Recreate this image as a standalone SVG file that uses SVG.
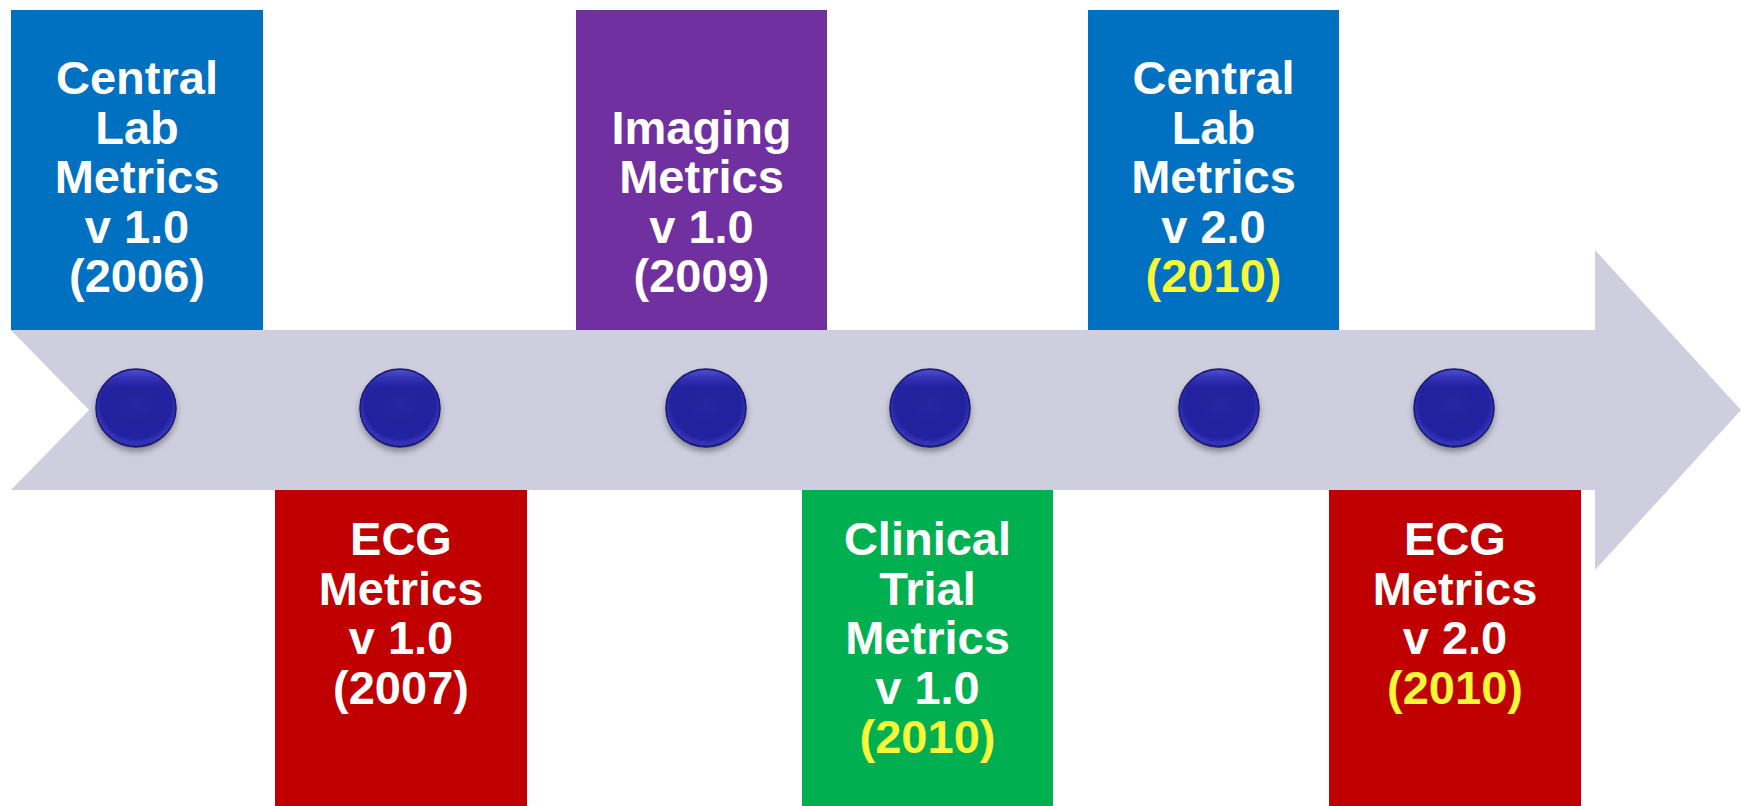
<svg xmlns="http://www.w3.org/2000/svg" width="1741" height="806" viewBox="0 0 1741 806">
<style>
.t{font-family:"Liberation Sans",Arial,sans-serif;font-weight:bold;font-size:47px;fill:#ffffff;text-anchor:middle}
.y{fill:#F8F83A}
.blue{fill:#0070C0}.red{fill:#C00000}.purple{fill:#7030A0}.green{fill:#00B050}
.dot{fill:url(#dg);stroke:#1a1a66;stroke-width:1.5;filter:url(#sh)}
</style>
<defs>
<radialGradient id="dg" cx="0.5" cy="0.45" r="0.55">
<stop offset="0" stop-color="#25259E"/>
<stop offset="0.8" stop-color="#2323A0"/>
<stop offset="0.93" stop-color="#3535C0"/>
<stop offset="1" stop-color="#1B1B7A"/>
</radialGradient>
<linearGradient id="hl" x1="0" y1="0" x2="0" y2="1">
<stop offset="0" stop-color="#5A5AE0" stop-opacity="0.8"/>
<stop offset="0.25" stop-color="#3030B8" stop-opacity="0"/>
</linearGradient>
<filter id="sh" x="-30%" y="-30%" width="160%" height="170%">
<feGaussianBlur in="SourceAlpha" stdDeviation="3"/>
<feOffset dy="4"/>
<feComponentTransfer><feFuncA type="linear" slope="0.35"/></feComponentTransfer>
<feMerge><feMergeNode/><feMergeNode in="SourceGraphic"/></feMerge>
</filter>
</defs>
<g id="connectors">
<polygon id="arrow" points="11,330 1595,330 1595,250 1741,410 1595,570 1595,490 11,490 89,410" fill="#CECEDF"/>
</g>
<g id="dots">
<g id="dot1"><ellipse class="dot" cx="136" cy="408" rx="40" ry="39"/><ellipse cx="136" cy="408" rx="39" ry="38" fill="url(#hl)"/></g>
<g id="dot2"><ellipse class="dot" cx="400" cy="408" rx="40" ry="39"/><ellipse cx="400" cy="408" rx="39" ry="38" fill="url(#hl)"/></g>
<g id="dot3"><ellipse class="dot" cx="706" cy="408" rx="40" ry="39"/><ellipse cx="706" cy="408" rx="39" ry="38" fill="url(#hl)"/></g>
<g id="dot4"><ellipse class="dot" cx="930" cy="408" rx="40" ry="39"/><ellipse cx="930" cy="408" rx="39" ry="38" fill="url(#hl)"/></g>
<g id="dot5"><ellipse class="dot" cx="1219" cy="408" rx="40" ry="39"/><ellipse cx="1219" cy="408" rx="39" ry="38" fill="url(#hl)"/></g>
<g id="dot6"><ellipse class="dot" cx="1454" cy="408" rx="40" ry="39"/><ellipse cx="1454" cy="408" rx="39" ry="38" fill="url(#hl)"/></g>
</g>
<g id="node1">
<rect class="blue" x="11" y="10" width="252" height="320"/>
<text class="t" x="137" y="94">Central</text>
<text class="t" x="137" y="143.5">Lab</text>
<text class="t" x="137" y="193">Metrics</text>
<text class="t" x="137" y="242.5">v 1.0</text>
<text class="t" x="137" y="292">(2006)</text>
</g>
<g id="node2">
<rect class="red" x="275" y="490" width="252" height="316"/>
<text class="t" x="401" y="555">ECG</text>
<text class="t" x="401" y="604.5">Metrics</text>
<text class="t" x="401" y="654">v 1.0</text>
<text class="t" x="401" y="703.5">(2007)</text>
</g>
<g id="node3">
<rect class="purple" x="576" y="10" width="251" height="320"/>
<text class="t" x="701.5" y="143.5">Imaging</text>
<text class="t" x="701.5" y="193">Metrics</text>
<text class="t" x="701.5" y="242.5">v 1.0</text>
<text class="t" x="701.5" y="292">(2009)</text>
</g>
<g id="node4">
<rect class="green" x="802" y="490" width="251" height="316"/>
<text class="t" x="927.5" y="555">Clinical</text>
<text class="t" x="927.5" y="604.5">Trial</text>
<text class="t" x="927.5" y="654">Metrics</text>
<text class="t" x="927.5" y="703.5">v 1.0</text>
<text class="t y" x="927.5" y="753">(2010)</text>
</g>
<g id="node5">
<rect class="blue" x="1088" y="10" width="251" height="320"/>
<text class="t" x="1213.5" y="94">Central</text>
<text class="t" x="1213.5" y="143.5">Lab</text>
<text class="t" x="1213.5" y="193">Metrics</text>
<text class="t" x="1213.5" y="242.5">v 2.0</text>
<text class="t y" x="1213.5" y="292">(2010)</text>
</g>
<g id="node6">
<rect class="red" x="1329" y="490" width="252" height="316"/>
<text class="t" x="1455" y="555">ECG</text>
<text class="t" x="1455" y="604.5">Metrics</text>
<text class="t" x="1455" y="654">v 2.0</text>
<text class="t y" x="1455" y="703.5">(2010)</text>
</g>
</svg>
